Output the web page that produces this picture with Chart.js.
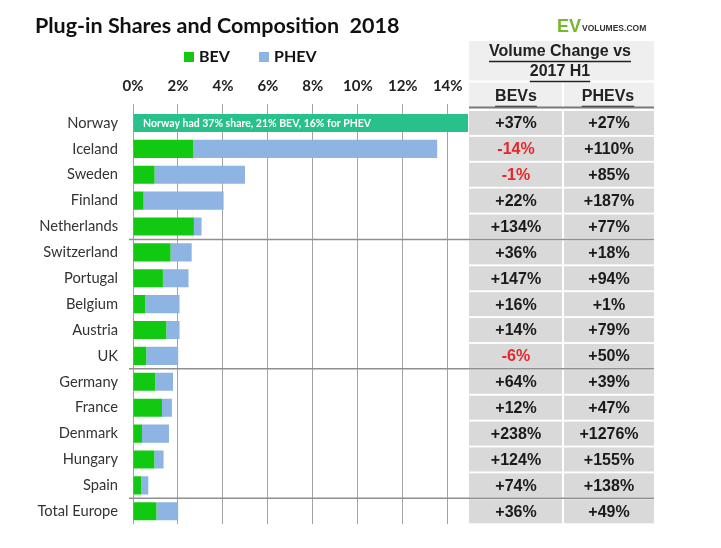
<!DOCTYPE html>
<html><head><meta charset="utf-8">
<script src="https://cdn.jsdelivr.net/npm/chart.js@4"></script>
<style>html,body{margin:0;padding:0;background:#fff}#wrap{width:721px;height:548px;position:relative}</style>
</head><body><div id="wrap"><canvas id="c" width="721" height="548"></canvas></div>
<script>
const categories = ['Norway','Iceland','Sweden','Finland','Netherlands','Switzerland','Portugal','Belgium','Austria','UK','Germany','France','Denmark','Hungary','Spain','Total Europe'];
const bevShare  = [null,2.67,0.96,0.47,2.71,1.67,1.33,0.55,1.48,0.59,0.99,1.29,0.40,0.95,0.37,1.04];
const phevShare = [null,10.86,4.02,3.56,0.34,0.94,1.14,1.52,0.59,1.42,0.79,0.44,1.20,0.41,0.31,0.97];
const norwayShare = [37,null,null,null,null,null,null,null,null,null,null,null,null,null,null,null];
const norwayBev = 21;
const norwayPhev = 16;
const bevChange  = [37,-14,-1,22,134,36,147,16,14,-6,64,12,238,124,74,36];
const phevChange = [27,110,85,187,77,18,94,1,79,50,39,47,1276,155,138,49];
const xTicks = [0,2,4,6,8,10,12,14];
const groupStarts = ['Switzerland','Germany','Total Europe'];
const titleText = 'Plug-in Shares and Composition  2018';
const tableHeader = ['Volume Change vs','2017 H1'];
const colHeaders = ['BEVs','PHEVs'];

const GREEN = '#12c912', BLUE = '#8db4e2', TEAL = '#29c18b';

const fmt = v => (v > 0 ? '+' : '') + v + '%';

function underlinedText(ctx, txt, x, y) {
  ctx.fillText(txt, x, y);
  const w = ctx.measureText(txt).width;
  ctx.beginPath();
  ctx.moveTo(x - w/2, y + 9.5);
  ctx.lineTo(x + w/2, y + 9.5);
  ctx.lineWidth = 1.3;
  ctx.strokeStyle = '#222';
  ctx.stroke();
}

const decor = {
  id: 'decor',
  afterDraw(chart) {
    const ctx = chart.ctx;
    const ys = chart.scales.y;
    ctx.save();
    // title
    ctx.fillStyle = '#111';
    ctx.font = 'bold 21.5px Lato';
    ctx.textAlign = 'left';
    ctx.textBaseline = 'middle';
    ctx.fillText(titleText, 35, 26);
    // legend
    const leg = [[chart.data.datasets[0], 184], [chart.data.datasets[1], 259]];
    ctx.font = 'bold 16px Lato';
    leg.forEach(([ds, x]) => {
      ctx.fillStyle = ds.backgroundColor;
      ctx.fillRect(x, 52, 10, 10);
      ctx.fillStyle = '#111';
      ctx.fillText(ds.label, x + 15, 57);
    });
    // logo
    ctx.font = 'bold 18px "Liberation Sans"';
    ctx.fillStyle = '#76b82a';
    ctx.textBaseline = 'alphabetic';
    ctx.fillText('EV', 557, 32);
    ctx.font = 'bold 8.5px "Liberation Sans"';
    ctx.fillStyle = '#333';
    ctx.fillText('VOLUMES.COM', 582, 31);

    // Norway annotation
    const ny = ys.getPixelForValue(0);
    ctx.font = 'bold 10.5px Lato';
    ctx.fillStyle = '#ffffff';
    ctx.textBaseline = 'middle';
    ctx.fillText('Norway had ' + norwayShare[0] + '% share, ' + norwayBev + '% BEV, ' + norwayPhev + '% for PHEV', 143, ny + 1);

    // table header
    const tL = 469, tM = 563, tR = 654;
    ctx.fillStyle = '#efefef';
    ctx.fillRect(tL, 41, tR - tL, 66);
    ctx.fillStyle = '#ffffff';
    ctx.fillRect(tL, 80.5, tR - tL, 2);
    ctx.fillRect(tM - 1, 82, 2, 25);
    ctx.fillStyle = '#222';
    ctx.textAlign = 'center';
    ctx.font = 'bold 16px "Liberation Sans"';
    underlinedText(ctx, tableHeader[0], 560, 52);
    underlinedText(ctx, tableHeader[1], 560, 72);
    underlinedText(ctx, colHeaders[0], 516, 97);
    underlinedText(ctx, colHeaders[1], 608, 97);

    // table cells
    categories.forEach((c, i) => {
      const yc = ys.getPixelForValue(i);
      ctx.fillStyle = '#d9d9d9';
      ctx.fillRect(tL, yc - 12, tM - 1 - tL, 24);
      ctx.fillRect(tM + 1, yc - 12, tR - tM - 1, 24);
      ctx.font = 'bold 16px "Liberation Sans"';
      ctx.textBaseline = 'middle';
      ctx.fillStyle = bevChange[i] < 0 ? '#e5262b' : '#1a1a1a';
      ctx.fillText(fmt(bevChange[i]), 516, yc + 1);
      ctx.fillStyle = phevChange[i] < 0 ? '#e5262b' : '#1a1a1a';
      ctx.fillText(fmt(phevChange[i]), 609, yc + 1);
    });
    // header bottom line
    ctx.strokeStyle = '#7a7a7a';
    ctx.lineWidth = 2;
    ctx.beginPath();
    ctx.moveTo(tL, 107.5); ctx.lineTo(tR, 107.5);
    ctx.stroke();
    // group separators
    ctx.strokeStyle = '#8f8f8f';
    ctx.lineWidth = 1.5;
    groupStarts.forEach(name => {
      const j = categories.indexOf(name);
      const y = (ys.getPixelForValue(j - 1) + ys.getPixelForValue(j)) / 2;
      ctx.beginPath();
      ctx.moveTo(129, y); ctx.lineTo(tR, y);
      ctx.stroke();
    });
    ctx.restore();
  }
};

new Chart(document.getElementById('c'), {
  type: 'bar',
  data: {
    labels: categories,
    datasets: [
      { label: 'BEV', data: bevShare, backgroundColor: GREEN, categoryPercentage: 0.7, barPercentage: 1 },
      { label: 'PHEV', data: phevShare, backgroundColor: BLUE, categoryPercentage: 0.7, barPercentage: 1 },
      { label: 'Norway', data: norwayShare, backgroundColor: TEAL, categoryPercentage: 0.7, barPercentage: 1 }
    ]
  },
  options: {
    indexAxis: 'y',
    responsive: false,
    animation: false,
    devicePixelRatio: 1,
    layout: { padding: { left: 0, right: 253, top: 0, bottom: 21 } },
    plugins: { legend: { display: false }, tooltip: { enabled: false } },
    scales: {
      x: {
        position: 'top',
        stacked: true,
        min: 0,
        max: 14.9,
        afterBuildTicks: s => { s.ticks = xTicks.map(v => ({ value: v })); },
        afterFit: s => { s.height = 110; },
        ticks: { font: { family: 'Lato', weight: 'bold', size: 15 }, color: '#222', padding: 9, maxRotation: 0,
                 callback: v => v + '%' },
        grid: { color: '#a3a3a3', lineWidth: 1, tickLength: 6 },
        border: { display: false }
      },
      y: {
        stacked: true,
        afterFit: s => { s.width = 133; },
        ticks: { font: { family: 'Lato', size: 14.7 }, color: '#333', padding: 15 },
        grid: { display: false, drawTicks: false },
        border: { display: false }
      }
    }
  },
  plugins: [decor]
});
</script></body></html>
